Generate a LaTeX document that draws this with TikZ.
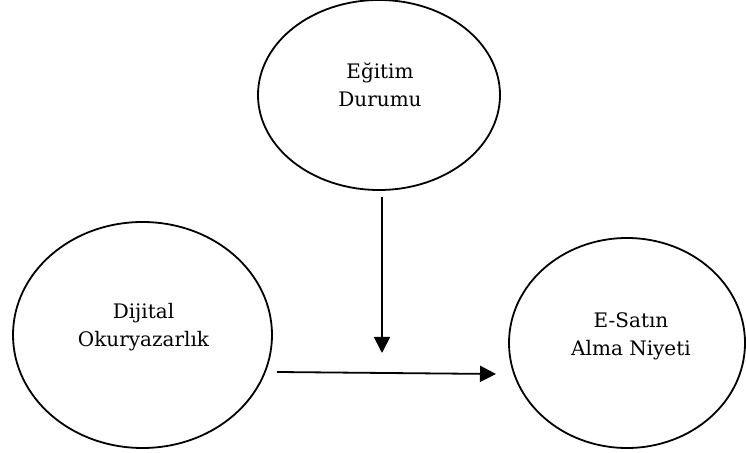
\documentclass[tikz,border=0pt]{standalone}
\usepackage{fontspec}
\setmainfont{DejaVu Serif}
\usetikzlibrary{arrows.meta,shapes.geometric}
\begin{document}
\begin{tikzpicture}[x=1pt,y=1pt,
  oval/.style={ellipse,draw,line width=1.8pt,inner sep=0pt},
  lbl/.style={align=center,inner sep=0pt,font=\fontsize{20}{28}\selectfont},
  arr/.style={line width=1.8pt,-{Triangle[length=16pt,width=16pt]}}]
\useasboundingbox (0,0) rectangle (746,452);
\node[oval,minimum width=242pt,minimum height=190pt] (edu) at (379,357) {};
\node[oval,minimum width=259pt,minimum height=226pt] (dig) at (142.5,117) {};
\node[oval,minimum width=236pt,minimum height=210pt] (buy) at (627,109) {};
\node[lbl] (edut) at ([xshift=1pt,yshift=10pt]edu.center) {Eğitim\\Durumu};
\node[lbl] (digt) at ([xshift=1pt,yshift=8pt]dig.center) {Dijital\\Okuryazarlık};
\node[lbl] (buyt) at ([xshift=4pt,yshift=7pt]buy.center) {E-Satın\\Alma Niyeti};
\coordinate (vs) at (382,255);
\coordinate (ve) at (382,99);
\coordinate (hs) at (277,80);
\coordinate (he) at (496,78);
\draw[arr] (vs) -- (ve);
\draw[arr] (hs) -- (he);
\end{tikzpicture}
\end{document}
